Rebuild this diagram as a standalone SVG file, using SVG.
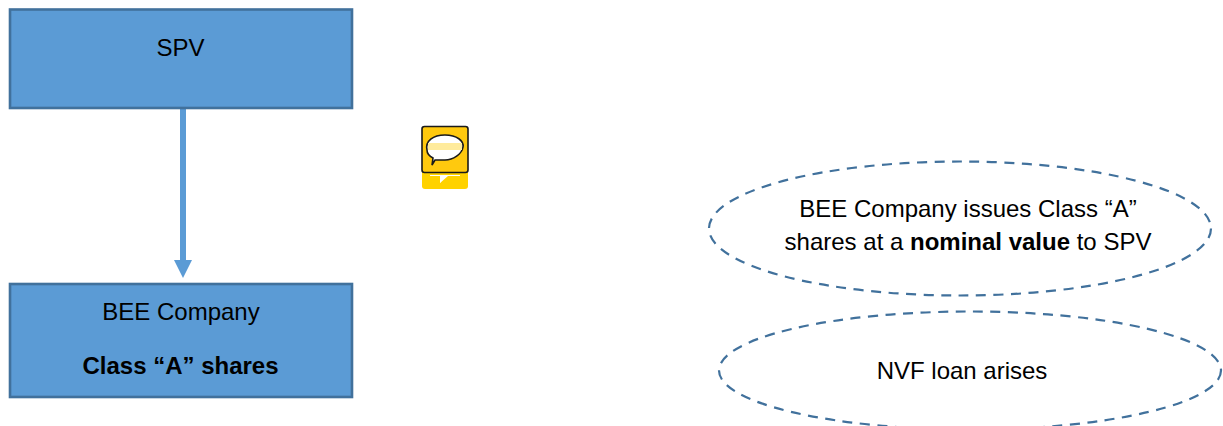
<svg xmlns="http://www.w3.org/2000/svg" width="1223" height="426" viewBox="0 0 1223 426">
<style>
text{font-family:"Liberation Sans",Arial,sans-serif;font-size:24px;fill:#000;text-anchor:middle}
.b{font-weight:bold}
.box{fill:#5b9bd5;stroke:#41719c;stroke-width:2.6}
.oval{fill:none;stroke:#41719c;stroke-width:2.2;stroke-dasharray:10 7.5}
</style>
<rect width="1223" height="426" fill="#fff"/>
<g id="connectors">
<rect x="180" y="108" width="6" height="153" fill="#5b9bd5"/>
<path d="M174 260H192L183 278Z" fill="#5b9bd5"/>
</g>
<g id="spv"><rect class="box" x="10" y="9.500" width="342" height="98.500"/><text x="180.500" y="56">SPV</text></g>
<g id="bee"><rect class="box" x="10" y="284" width="342" height="113"/><text x="181" y="320">BEE Company</text><text class="b" x="180.500" y="374">Class “A” shares</text></g>
<g id="note-icon">
<path d="M422 170H468V186Q468 189 465 189H425Q422 189 422 186Z" fill="#ffd200"/>
<path d="M430 176H460L445 176L446 176H445L440 183V176Z" fill="#fff"/>
<path d="M430 175H460V176H448L440 183V176H430Z" fill="#fff"/>
<rect x="422" y="126.500" width="46" height="46" rx="2.500" fill="#ffc90e" stroke="#1a1a1a" stroke-width="1.600"/>
<path d="M427 150C425 141 433 135 445 135C457 135 464 141 463 147C462 154 453 160 445 160C441 160 438 160 435 160L432 165L433 158C429 156 427 154 427 150Z" fill="#fff" stroke="#1a1a1a" stroke-width="1.600"/>
<rect x="428" y="143" width="34" height="7" fill="#ffeb9c"/>
</g>
<g id="oval-issue"><ellipse class="oval" cx="960" cy="228.500" rx="251" ry="67"/>
<text x="968" y="217">BEE Company issues Class “A”</text>
<text x="968" y="250">shares at a <tspan class="b">nominal value</tspan> to SPV</text></g>
<g id="oval-nvf"><ellipse class="oval" cx="970" cy="370.500" rx="251" ry="59"/><text x="962" y="379">NVF loan arises</text></g>
</svg>
